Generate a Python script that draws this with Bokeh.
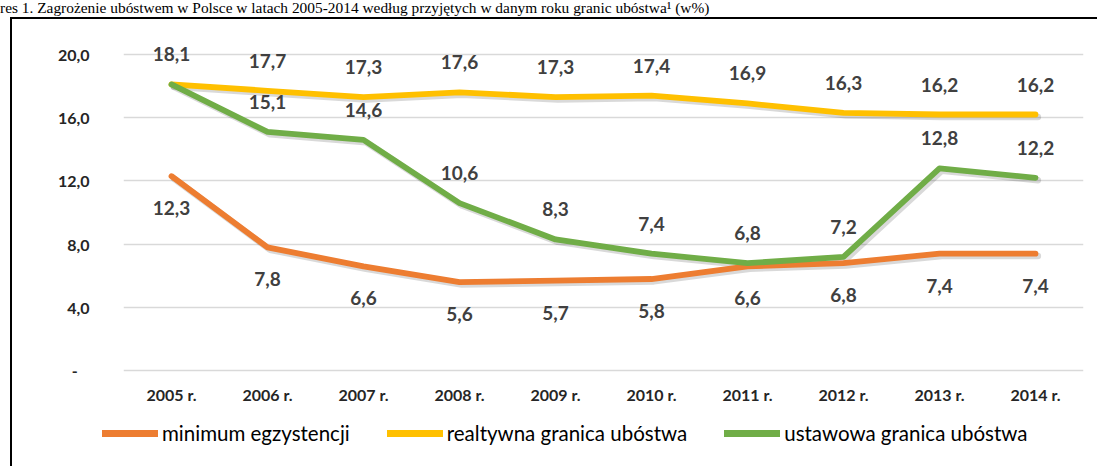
from bokeh.plotting import figure
from bokeh.layouts import column
from bokeh.models import (FactorRange, Range1d, FixedTicker, ColumnDataSource,
                          Legend, LegendItem, Div, InlineStyleSheet)
from bokeh.transform import dodge
from bokeh.core.properties import value
from bokeh.embed import file_html
from bokeh.resources import INLINE

# ---------------- data ----------------
years = ["2005 r.", "2006 r.", "2007 r.", "2008 r.", "2009 r.",
         "2010 r.", "2011 r.", "2012 r.", "2013 r.", "2014 r."]
minimum_egzystencji = [12.3, 7.8, 6.6, 5.6, 5.7, 5.8, 6.6, 6.8, 7.4, 7.4]
relatywna_granica = [18.1, 17.7, 17.3, 17.6, 17.3, 17.4, 16.9, 16.3, 16.2, 16.2]
ustawowa_granica = [18.1, 15.1, 14.6, 10.6, 8.3, 7.4, 6.8, 7.2, 12.8, 12.2]
series_names = ["minimum egzystencji", "realtywna granica ubóstwa", "ustawowa granica ubóstwa"]
y_ticks = [0, 4, 8, 12, 16, 20]
y_tick_labels = ["-\u00a0\u00a0\u00a0", "4,0", "8,0", "12,0", "16,0", "20,0"]
title_text = ("res 1. Zagrożenie ubóstwem w Polsce w latach 2005-2014 według przyjętych "
              "w danym roku granic ubóstwa\u00b9 (w%)")

colors = ["#ED7D31", "#FFC000", "#70AD47"]
FONT = "Lato"
W = 1097


def fmt(v):
    return f"{v:.1f}".replace(".", ",")


series = [minimum_egzystencji, relatywna_granica, ustawowa_granica]

# ---------------- title ----------------
title = Div(text=title_text, width=W, height=18, margin=0,
            styles={"font-family": "Liberation Serif", "font-size": "15.4px",
                    "line-height": "15px", "white-space": "nowrap", "color": "#000000"})

# ---------------- main chart ----------------
p = figure(x_range=FactorRange(factors=years, range_padding=0),
           y_range=Range1d(-0.3, 20.5),
           width=W, height=392, output_backend="svg", toolbar_location=None,
           min_border_left=123, min_border_right=14, min_border_top=28, min_border_bottom=35)
p.outline_line_color = None
p.background_fill_color = "white"
p.border_fill_color = "white"

p.xgrid.grid_line_color = None
p.ygrid.ticker = FixedTicker(ticks=y_ticks)
p.ygrid.grid_line_color = "#D9D9D9"
p.ygrid.grid_line_width = 1.6

p.yaxis.ticker = FixedTicker(ticks=y_ticks)
p.yaxis.major_label_overrides = {t: l for t, l in zip(y_ticks, y_tick_labels)}
for ax in (p.xaxis, p.yaxis):
    ax.axis_line_color = None
    ax.major_tick_line_color = None
    ax.minor_tick_line_color = None
    ax.major_tick_out = 0
    ax.major_tick_in = 0
    ax.major_label_text_font = FONT
    ax.major_label_text_font_style = "bold"
    ax.major_label_text_font_size = "16px"
    ax.major_label_text_color = "#262626"
p.yaxis.major_label_standoff = 34
p.xaxis.major_label_standoff = 9

sources = [ColumnDataSource(dict(x=years, y=s)) for s in series]

# shadows
for src in sources:
    p.line(x=dodge("x", 0.025, range=p.x_range), y=dodge("y", -0.15), source=src,
           line_color="#000000", line_alpha=0.15, line_width=6.5, line_join="round", line_cap="round")
# lines
for src, c in zip(sources, colors):
    p.line(x="x", y="y", source=src, line_color=c, line_width=5.8,
           line_join="round", line_cap="round")

# data labels
label_offsets = [32, -30, -30]
for i, (s, off) in enumerate(zip(series, label_offsets)):
    xs, ys, ts = [], [], []
    for j, v in enumerate(s):
        # skip a label hidden under an identical label of another series
        if i == 2 and v == relatywna_granica[j]:
            continue
        xs.append(years[j]); ys.append(v); ts.append(fmt(v))
    p.text(x=xs, y=ys, text=ts, y_offset=off, text_align="center", text_baseline="middle",
           text_font=value(FONT), text_font_style="bold", text_font_size="19px",
           text_color="#404040")

# ---------------- legend strip ----------------
pl = figure(x_range=FactorRange(factors=years), y_range=Range1d(100, 101),
            width=W, height=56, output_backend="svg", toolbar_location=None,
            x_axis_location=None, y_axis_location=None, frame_align=False,
            min_border_left=0, min_border_right=0, min_border_top=0, min_border_bottom=0)
pl.outline_line_color = None
pl.grid.visible = False
items = []
for name, c, s in zip(series_names, colors, series):
    # same series, outside this strip's visible range: only its legend swatch shows
    r = pl.line(x=years, y=s, line_color=c, line_width=7, line_cap="round")
    items.append(LegendItem(label=name, renderers=[r]))
legend = Legend(items=items, orientation="horizontal", location=(102, 21),
                glyph_width=56, glyph_height=20, label_height=20, label_standoff=4,
                spacing=37, padding=0, margin=0,
                label_text_font=FONT, label_text_font_size="20.5px", label_text_color="#000000",
                border_line_alpha=0, background_fill_alpha=0)
pl.add_layout(legend, "center")

layout = column(title, p, pl, spacing=0)
# the box drawn round the chart (left and top edges, as in the source)
layout.stylesheets = [InlineStyleSheet(css="""
:host::after {
  content: "";
  position: absolute;
  left: 10px; top: 17px; right: 0px; bottom: 0px;
  border-left: 2px solid #000;
  border-top: 2px solid #000;
  pointer-events: none;
}
""")]

open("out.html", "w").write(file_html(layout, INLINE))
